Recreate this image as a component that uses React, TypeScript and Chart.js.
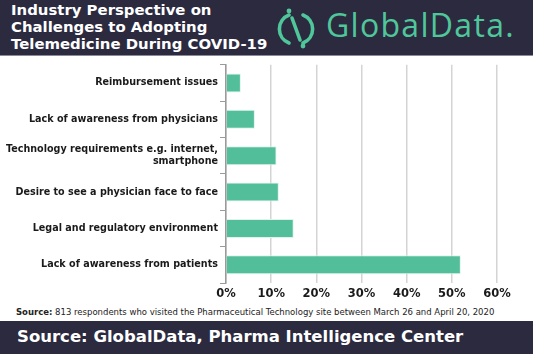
import React, { useEffect, useRef } from "react";
import { Chart, registerables } from "chart.js";

Chart.register(...registerables);

const categories: (string | string[])[] = [
  "Reimbursement issues",
  "Lack of awareness from physicians",
  ["Technology requirements e.g. internet,", "smartphone"],
  "Desire to see a physician face to face",
  "Legal and regulatory environment",
  "Lack of awareness from patients",
];
const values = [3.3, 6.4, 11.2, 11.7, 15.0, 52.0];
const xTicks = [0, 10, 20, 30, 40, 50, 60];

const titleLines = [
  "Industry Perspective on",
  "Challenges to Adopting",
  "Telemedicine During COVID-19",
];

const DARK = "#2c2a3f";
const GREEN = "#52bf9a";
const FONT = "'DejaVu Sans', sans-serif";

export default function App() {
  const ref = useRef<HTMLCanvasElement | null>(null);

  useEffect(() => {
    if (!ref.current) return;
    const chart = new Chart(ref.current, {
      type: "bar",
      data: {
        labels: categories,
        datasets: [
          {
            data: values,
            backgroundColor: GREEN,
            borderColor: "#dff3ec",
            borderWidth: 1,
            barPercentage: 0.52,
            categoryPercentage: 1,
          },
        ],
      },
      options: {
        indexAxis: "y",
        animation: false,
        responsive: false,
        maintainAspectRatio: false,
        layout: { padding: { top: 3, right: 36, left: 0, bottom: 0 } },
        plugins: { legend: { display: false }, tooltip: { enabled: false } },
        scales: {
          x: {
            min: 0,
            max: 60,
            afterFit: (s: any) => {
              s.height = 22;
            },
            afterBuildTicks: (s: any) => {
              s.ticks = xTicks.map((v) => ({ value: v }));
            },
            ticks: {
              callback: (v: any) => v + "%",
              color: "#1a1a1a",
              font: { family: FONT, size: 11.5, weight: "bold" },
              padding: 4,
              maxRotation: 0,
            },
            grid: {
              color: "#d4d4d4",
              lineWidth: 1.5,
              drawTicks: false,
            },
            border: { display: false },
          },
          y: {
            afterFit: (s: any) => {
              s.width = 226;
            },
            ticks: {
              color: "#1a1a1a",
              font: { family: FONT, size: 9.6, weight: "bold" },
              padding: 2,
            },
            grid: {
              offset: true,
              drawOnChartArea: false,
              drawTicks: true,
              tickLength: 6,
              color: "#9a9a9a",
              lineWidth: 1,
            },
            border: { display: true, color: "#9a9a9a", width: 1.5 },
          },
        },
      },
    });
    return () => chart.destroy();
  }, []);

  return (
    <div
      style={{
        position: "fixed",
        left: 0,
        top: 0,
        width: 533,
        height: 354,
        background: "#fff",
        overflow: "hidden",
        fontFamily: FONT,
      }}
    >
      <div
        style={{
          position: "absolute",
          left: 0,
          top: 0,
          width: 533,
          height: 55,
          background: DARK,
          borderBottom: "1px solid #8a8a99",
        }}
      >
        <div
          style={{
            position: "absolute",
            left: 11,
            top: 2,
            color: "#fff",
            fontWeight: "bold",
            fontSize: 14.9,
            lineHeight: "17px",
          }}
        >
          {titleLines.map((t, i) => (
            <div key={i}>{t}</div>
          ))}
        </div>
        <svg
          style={{ position: "absolute", left: 275, top: 7 }}
          width={44}
          height={42}
          viewBox="0 0 44 42"
        >
          <path
            d="M14 8 A15 15 0 0 0 14 36"
            stroke="#4fc79b"
            strokeWidth={3.6}
            fill="none"
            strokeLinecap="round"
          />
          <path
            d="M28 8 A15 15 0 0 1 28 36"
            stroke="#4fc79b"
            strokeWidth={3.6}
            fill="none"
            strokeLinecap="round"
          />
          <line
            x1={17}
            y1={11}
            x2={25}
            y2={33}
            stroke="#4fc79b"
            strokeWidth={3.6}
            strokeLinecap="round"
          />
          <circle cx={14} cy={4} r={2.4} fill="#4fc79b" />
          <circle cx={28} cy={39} r={2.4} fill="#4fc79b" />
        </svg>
        <div
          style={{
            position: "absolute",
            left: 326,
            top: 4,
            color: "#4fc79b",
            fontFamily: "'Open Sans', sans-serif",
            fontWeight: 500,
            fontSize: 32,
            lineHeight: "42px",
            letterSpacing: 1.3,
          }}
        >
          GlobalData.
        </div>
      </div>
      <canvas
        ref={ref}
        width={533}
        height={248}
        style={{ position: "absolute", left: 0, top: 57, width: 533, height: 248 }}
      />
      <div
        style={{
          position: "absolute",
          left: 16,
          top: 307,
          fontSize: 8.5,
          color: "#222",
          whiteSpace: "nowrap",
        }}
      >
        <b>Source:</b> 813 respondents who visited the Pharmaceutical Technology site between March 26 and April 20, 2020
      </div>
      <div
        style={{
          position: "absolute",
          left: 0,
          top: 321,
          width: 533,
          height: 33,
          background: DARK,
        }}
      >
        <div
          style={{
            position: "absolute",
            left: 17,
            top: 6,
            color: "#fff",
            fontWeight: "bold",
            fontSize: 16.5,
            lineHeight: "20px",
            whiteSpace: "nowrap",
          }}
        >
          Source: GlobalData, Pharma Intelligence Center
        </div>
      </div>
    </div>
  );
}
